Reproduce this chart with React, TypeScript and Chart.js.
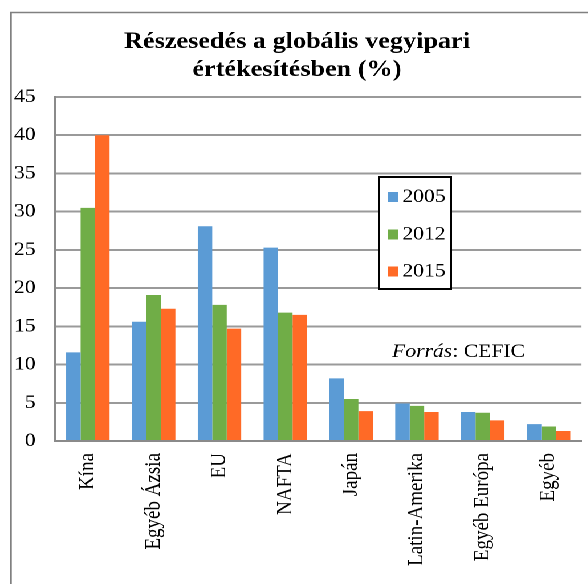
import React, { useEffect, useRef } from "react";
import { Chart, registerables } from "chart.js";

Chart.register(...registerables);

const categories = ["Kína", "Egyéb Ázsia", "EU", "NAFTA", "Japán", "Latin-Amerika", "Egyéb Európa", "Egyéb"];
const seriesLabels = ["2005", "2012", "2015"];
const values2005 = [11.6, 15.6, 28.1, 25.3, 8.2, 4.9, 3.8, 2.2];
const values2012 = [30.5, 19.1, 17.8, 16.8, 5.5, 4.6, 3.7, 1.9];
const values2015 = [40, 17.3, 14.7, 16.5, 3.9, 3.8, 2.7, 1.3];
const seriesColors = ["#5B9BD5", "#70AD47", "#FF6A26"];
const titleLines = ["Részesedés a globális vegyipari", "értékesítésben (%)"];
const sourceItalic = "Forrás";
const sourceRest = ": CEFIC";

const SX = 1.14;
const W = 516;
const H = 584;
const FONT = "'Liberation Serif', 'Times New Roman', serif";

const decorPlugin = {
  id: "decor",
  beforeDraw(chart: any) {
    const ctx = chart.ctx;
    ctx.save();
    ctx.strokeStyle = "#808080";
    ctx.lineWidth = 1.5;
    ctx.beginPath();
    ctx.moveTo(9.6, H);
    ctx.lineTo(9.6, 12.5);
    ctx.lineTo(W, 12.5);
    ctx.stroke();
    ctx.restore();
  },
  afterDraw(chart: any) {
    const ctx = chart.ctx;
    ctx.save();
    // title
    ctx.fillStyle = "#000";
    ctx.textAlign = "center";
    ctx.textBaseline = "alphabetic";
    ctx.font = `bold 23px ${FONT}`;
    ctx.fillText(titleLines[0], 260.5, 48);
    ctx.fillText(titleLines[1], 260.5, 76);

    // legend
    const lx = 332.5, ly = 177, lw = 63, lh = 112;
    ctx.fillStyle = "#fff";
    ctx.fillRect(lx, ly, lw, lh);
    ctx.strokeStyle = "#000";
    ctx.lineWidth = 2;
    ctx.strokeRect(lx, ly, lw, lh);
    const tops = [192, 229.5, 266.5];
    const bases = [202, 239.5, 276.5];
    ctx.font = `19px ${FONT}`;
    ctx.textAlign = "left";
    chart.data.datasets.forEach((ds: any, i: number) => {
      ctx.fillStyle = ds.backgroundColor;
      ctx.fillRect(340, tops[i], 9.3, 10);
      ctx.fillStyle = "#000";
      ctx.fillText(ds.label, 352.9, bases[i]);
    });

    // source
    ctx.font = `italic 19px ${FONT}`;
    ctx.fillText(sourceItalic, 343.9, 357);
    const w = ctx.measureText(sourceItalic).width;
    ctx.font = `19px ${FONT}`;
    ctx.fillText(sourceRest, 343.9 + w, 357);
    ctx.restore();
  },
};

export default function App() {
  const ref = useRef<HTMLCanvasElement>(null);
  useEffect(() => {
    if (!ref.current) return;
    const chart = new Chart(ref.current, {
      type: "bar",
      data: {
        labels: categories,
        datasets: [values2005, values2012, values2015].map((d, i) => ({
          label: seriesLabels[i],
          data: d,
          backgroundColor: seriesColors[i],
          borderWidth: 0,
          categoryPercentage: 0.66,
          barPercentage: 1,
        })),
      },
      options: {
        responsive: false,
        animation: false,
        devicePixelRatio: 2,
        layout: { padding: { top: 97, left: 0, right: 0, bottom: 0 } },
        plugins: {
          legend: { display: false },
          title: { display: false },
          tooltip: { enabled: false },
        },
        scales: {
          x: {
            grid: { display: false, drawTicks: false },
            border: { display: true, color: "#8a8a8a", width: 2 },
            ticks: {
              color: "#000",
              font: { family: FONT, size: 19 },
              maxRotation: 90,
              minRotation: 90,
              padding: 12,
              autoSkip: false,
            },
            afterFit: (s: any) => {
              s.height = 143;
            },
          },
          y: {
            min: 0,
            max: 45,
            grid: { color: "#9a9a9a", lineWidth: 2, drawTicks: false },
            border: { display: true, color: "#8a8a8a", width: 2 },
            ticks: {
              stepSize: 5,
              color: "#000",
              font: { family: FONT, size: 19 },
              padding: 17,
            },
            afterFit: (s: any) => {
              s.width = 48.2;
            },
          },
        },
      },
      plugins: [decorPlugin],
    });
    return () => chart.destroy();
  }, []);
  return (
    <div
      style={{
        position: "fixed",
        left: 0,
        top: 0,
        width: W,
        height: H,
        transform: `scaleX(${SX})`,
        transformOrigin: "0 0",
        background: "#fff",
      }}
    >
      <canvas ref={ref} width={W} height={H} style={{ display: "block" }} />
    </div>
  );
}
